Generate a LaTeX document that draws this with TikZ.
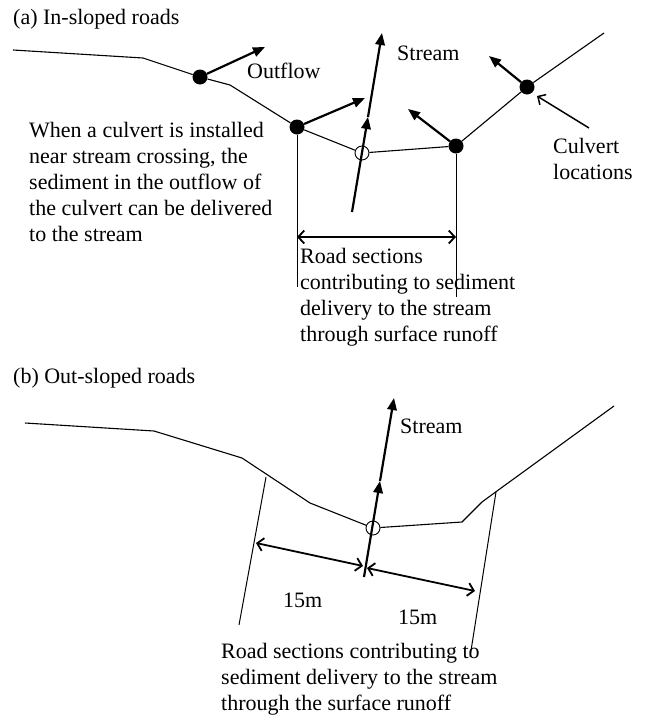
\documentclass[tikz,border=0pt]{standalone}
\usepackage{fontspec}
\setmainfont{Liberation Serif}
\usetikzlibrary{arrows.meta}

\begin{document}
\begin{tikzpicture}[x=1pt,y=-1pt,font=\fontsize{22}{26}\selectfont,
	road/.style={line width=1.1pt},
	edgeline/.style={line width=1pt},
	flow/.style={line width=2.2pt,-{Triangle[length=12pt,width=9.5pt]}},
	span/.style={line width=1.8pt,{Straight Barb[length=6pt,width=13pt]}-{Straight Barb[length=6pt,width=13pt]}},
	pointer/.style={line width=1.5pt,-{Straight Barb[length=6pt,width=12pt]}},
	dot/.style={circle,fill,inner sep=0pt,minimum size=15pt},
	crossing/.style={circle,draw,line width=0.9pt,inner sep=0pt,minimum size=14pt},
	txt/.style={inner sep=0pt,align=left}]
	\useasboundingbox (0,0) rectangle (648,718);

	% (a) in-sloped roads
	\node (TA) at (13,24)	[txt, anchor=base west]	{(a) In-sloped roads};
	\coordinate (A1) at (13,50);
	\coordinate (A2) at (143,58);
	\coordinate (A3) at (230,85);
	\coordinate (A4) at (604,33);
	\node (D1) at (200,77)	[dot]	{};
	\node (D2) at (297,127)	[dot]	{};
	\node (X1) at (362,153)	[crossing]	{};
	\node (D3) at (456,146)	[dot]	{};
	\node (D4) at (527,87)	[dot]	{};
	\draw[road] (A1) -- (A2) -- (D1) -- (A3) -- (D2) -- (X1) -- (D3) -- (D4) -- (A4);

	\coordinate (O1) at (265,47);
	\coordinate (O2) at (365,98);
	\coordinate (O3) at (408,109);
	\coordinate (O4) at (489,56);
	\draw[flow] (D1) -- (O1);
	\draw[flow] (D2) -- (O2);
	\draw[flow] (D3) -- (O3);
	\draw[flow] (D4) -- (O4);

	\coordinate (S1b) at (352,212);
	\coordinate (S1m) at (368,117);
	\coordinate (S1t) at (382,33);
	\draw[flow] (S1b) -- (S1m);
	\draw[flow] (S1m) -- (S1t);

	\coordinate (C1) at (589,128);
	\coordinate (C2) at (537,96);
	\draw[pointer] (C1) -- (C2);

	\coordinate (V2) at (297,287);
	\coordinate (V3) at (456,297);
	\draw[edgeline] (D2) -- (V2);
	\draw[edgeline] (D3) -- (V3);
	\coordinate (H2) at (297,237);
	\coordinate (H3) at (456,237);
	\draw[span] (H2) -- (H3);

	\node (LO) at (247,78)	[txt, anchor=base west]	{Outflow};
	\node (LS1) at (397,60)	[txt, anchor=base west]	{Stream};
	\node (LC) at (553,138)	[txt, anchor=north west]	{Culvert\\locations};
	\node (LN) at (29,122)	[txt, anchor=north west]	{When a culvert is installed\\near stream crossing, the\\sediment in the outflow of\\the culvert can be delivered\\to the stream};
	\node (LR1) at (300,248)	[txt, anchor=north west]	{Road sections\\contributing to sediment\\delivery to the stream\\through surface runoff};

	% (b) out-sloped roads
	\node (TB) at (13,383)	[txt, anchor=base west]	{(b) Out-sloped roads};
	\coordinate (B1) at (25,423);
	\coordinate (B2) at (154,431);
	\coordinate (B3) at (242,458);
	\coordinate (B4) at (310,503);
	\node (X2) at (373,528)	[crossing]	{};
	\coordinate (B5) at (462,522);
	\coordinate (B6) at (482,502);
	\coordinate (B7) at (497,491);
	\coordinate (B8) at (614,406);
	\draw[road] (B1) -- (B2) -- (B3) -- (B4) -- (X2) -- (B5) -- (B6) -- (B7) -- (B8);

	\coordinate (S2b) at (364,577);
	\coordinate (S2m) at (380,481);
	\coordinate (S2t) at (394,398);
	\draw[flow] (S2b) -- (S2m);
	\draw[flow] (S2m) -- (S2t);

	\coordinate (L1) at (266,477);
	\coordinate (L2) at (239,625);
	\coordinate (R1) at (496,492);
	\coordinate (R2) at (470,657);
	\draw[edgeline] (L1) -- (L2);
	\draw[edgeline] (R1) -- (R2);

	\coordinate (P1) at (256,543);
	\coordinate (P2) at (363,566);
	\coordinate (P3) at (367,568);
	\coordinate (P4) at (475,591);
	\draw[span] (P1) -- (P2);
	\draw[span] (P3) -- (P4);

	\node (LS2) at (400,433)	[txt, anchor=base west]	{Stream};
	\node (LM1) at (283,607)	[txt, anchor=base west]	{15m};
	\node (LM2) at (398,624)	[txt, anchor=base west]	{15m};
	\node (LR2) at (221,643)	[txt, anchor=north west]	{Road sections contributing to\\sediment delivery to the stream\\through the surface runoff};
\end{tikzpicture}
\end{document}
